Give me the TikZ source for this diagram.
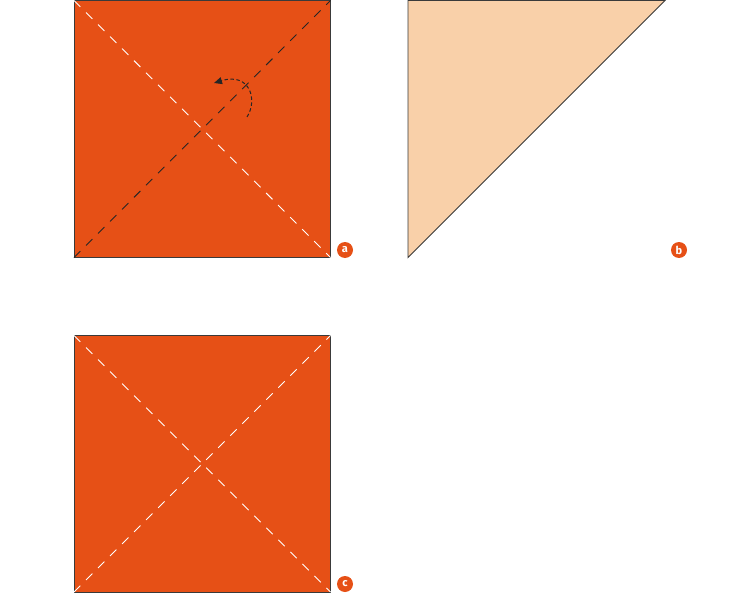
\documentclass[tikz,border=0pt]{standalone}
\usepackage{fontspec}
\setmainfont{Fira Sans}
\usetikzlibrary{arrows.meta}
\definecolor{paper}{HTML}{E65016}
\definecolor{peach}{HTML}{F9D0A9}
\definecolor{edge}{HTML}{3A3A3A}
\tikzset{
  sheet/.style={fill=paper, draw=edge, line width=1pt},
  flap/.style={fill=peach, draw=edge, line width=0.9pt},
  valley/.style={draw=white, line width=0.9pt, dash pattern=on 9pt off 8pt},
  mountain/.style={draw=black!85, line width=0.9pt, dash pattern=on 9pt off 8pt},
  foldarrow/.style={draw=black!85, line width=1pt, dash pattern=on 3.5pt off 2.5pt, -{Triangle[length=8pt,width=7pt]}},
  tag/.style={circle, fill=paper, text=white, inner sep=0pt, minimum size=16pt, font=\bfseries\fontsize{11pt}{11pt}\selectfont}
}
\begin{document}
\begin{tikzpicture}[x=1pt,y=-1pt]
\useasboundingbox (0,0) rectangle (737,594);
% square a
\coordinate (a1) at (74,0.5);
\coordinate (a2) at (330.5,0.5);
\coordinate (a3) at (330.5,257.5);
\coordinate (a4) at (74,257.5);
\path[sheet] (a1) rectangle (a3);
\draw[valley] (a1) -- (a3);
\draw[mountain] (a4) -- (a2);
\coordinate (s) at (247,117);
\coordinate (e) at (214,83);
\draw[foldarrow] (s) .. controls (258,100) and (250,72) .. (e);
\node[tag] (la) at (345,250) {a};
% triangle b
\coordinate (b1) at (408,0.5);
\coordinate (b2) at (665,0.5);
\coordinate (b3) at (408,257.5);
\path[flap] (b1) -- (b2) -- (b3) -- cycle;
\node[tag] (lb) at (679,250) {b};
% square c
\coordinate (c1) at (74,335.5);
\coordinate (c2) at (330.5,335.5);
\coordinate (c3) at (330.5,592);
\coordinate (c4) at (74,592);
\path[sheet] (c1) rectangle (c3);
\draw[valley] (c1) -- (c3);
\draw[valley] (c4) -- (c2);
\node[tag] (lc) at (345,584) {c};
\end{tikzpicture}
\end{document}
